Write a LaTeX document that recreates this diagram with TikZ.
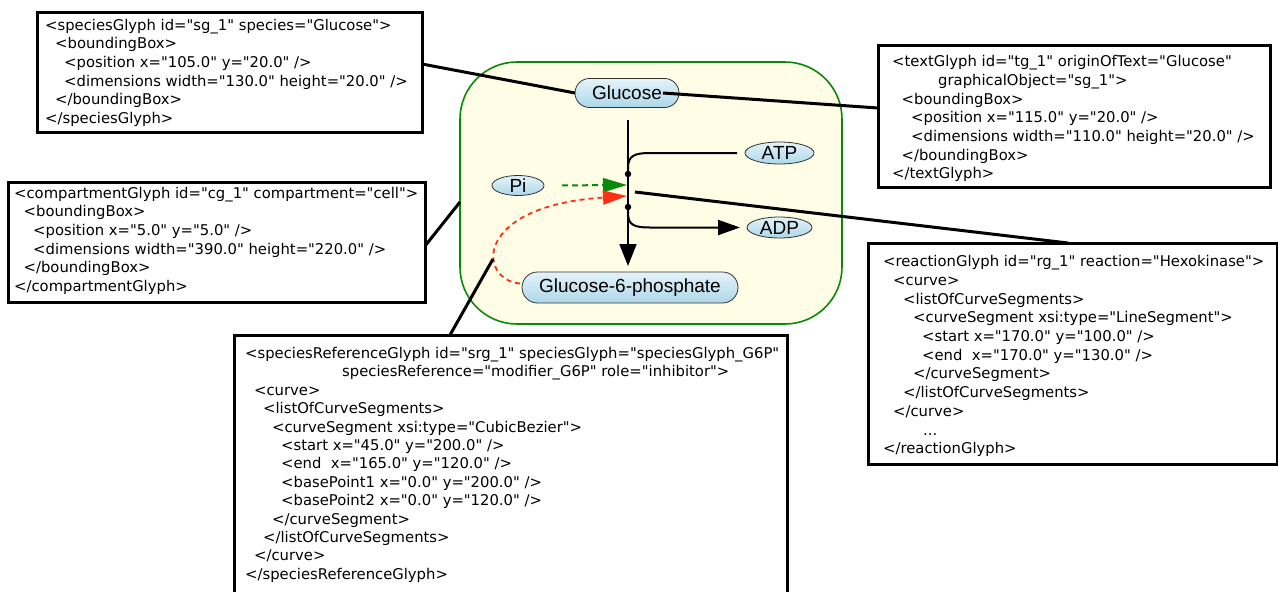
\documentclass[tikz,border=0pt]{standalone}
\usepackage{fontspec}
\setmainfont{DejaVu Sans}[Ligatures=TeXOff]
\newfontfamily\lblfont{Liberation Sans}
\usetikzlibrary{arrows.meta,calc,shapes.geometric}

\definecolor{cellfill}{HTML}{FFFDE6}
\definecolor{cellline}{HTML}{0A8A0A}
\definecolor{spectop}{HTML}{E4F3FA}
\definecolor{specbot}{HTML}{ADD7E9}
\definecolor{actgreen}{HTML}{0A8A0A}
\definecolor{inhred}{HTML}{FF3010}

\newcommand{\ind}[1]{\hspace*{#1pt}}

\tikzset{
  xmlbox/.style={draw=black, line width=3pt, fill=white, inner sep=0pt, outer sep=0pt, anchor=north west},
  xmltext/.style={anchor=base west, inner sep=0pt, font=\fontsize{14.8}{18.7}\selectfont},
  species/.style={draw=black!80, line width=0.8pt, top color=spectop, bottom color=specbot,
    font=\lblfont\fontsize{19}{21}\selectfont, inner sep=0pt, outer sep=0pt},
  stadium/.style={species, rectangle, rounded corners=#1},
  oval/.style={species, ellipse},
  cell/.style={draw=cellline, line width=1.6pt, fill=cellfill, rounded corners=57pt, inner sep=0pt, outer sep=0pt},
  rxn/.style={line width=2pt},
  knot/.style={circle, fill=black, inner sep=0pt, minimum size=6.5pt},
  link/.style={line width=3pt},
}

\begin{document}
\begin{tikzpicture}[x=1pt,y=-1pt]
\useasboundingbox (0,0) rectangle (1278,592);

% compartment
\node[cell, minimum width=382pt, minimum height=262pt] (cell) at (651,193) {};

% reaction backbone and side branches
\coordinate (rtop) at (628,120);
\coordinate (rbot) at (628,266);
\coordinate (actin) at (627,185);
\coordinate (inhend) at (627,196);
\coordinate (rlab) at (635,192);
\coordinate (inhpt) at (493,259);

\node[species, oval, minimum width=69pt, minimum height=22pt] (atp) at (779.5,153) {ATP};
\node[species, oval, minimum width=65pt, minimum height=21pt] (adp) at (779.5,227.5) {ADP};
\node[species, oval, minimum width=52pt, minimum height=20pt] (pi) at (518,185.5) {Pi};
\node[stadium=14.5pt, minimum width=104pt, minimum height=29pt] (glc) at (627,93) {Glucose};
\node[stadium=15.5pt, minimum width=216pt, minimum height=31pt] (g6p) at (630,287.5) {Glucose-6-phosphate};

\draw[rxn, -{Triangle[length=22pt,width=17pt]}] (rtop) -- (rbot);
\node[knot] (d1) at (628,174) {};
\node[knot] (d2) at (628,207) {};

\draw[rxn, shorten >=8pt] (d1.center) -- (628,168) .. controls (628,156) and (634,153) .. (650,153) -- (atp.west);
\draw[rxn, shorten >=7pt, -{Triangle[length=22pt,width=15pt]}] (d2.center) -- (628,213) .. controls (628,225) and (634,227.5) .. (650,227.5) -- (adp.west);

% activator and inhibitor
\draw[actgreen, line width=2pt, dash pattern=on 6pt off 4pt, shorten <=18pt,
      -{Triangle[length=24pt,width=14pt]}] (pi.east) -- (actin);
\draw[inhred, line width=1.8pt, dash pattern=on 5pt off 4pt,
      -{Triangle[length=24pt,width=14pt]}]
  ([xshift=-2pt,yshift=4pt]g6p.west) .. controls (478,280) and (472,206) .. (inhend);

% annotation boxes
\node[xmlbox, minimum width=385pt, minimum height=120pt] (b1) at (37,12) {};
\node[xmltext] (t1) at (45,30) {\begin{tabular}[t]{@{}l@{}}
<speciesGlyph id="sg\_1" species="Glucose">\\
\ind{10}<boundingBox>\\
\ind{19}<position x="105.0" y="20.0" />\\
\ind{19}<dimensions width="130.0" height="20.0" />\\
\ind{10}</boundingBox>\\
</speciesGlyph>
\end{tabular}};

\node[xmlbox, minimum width=392pt, minimum height=142pt] (b2) at (878,45) {};
\node[xmltext] (t2) at (892,66.7) {\begin{tabular}[t]{@{}l@{}}
<textGlyph id="tg\_1" originOfText="Glucose"\\
\ind{46}graphicalObject="sg\_1">\\
\ind{9.5}<boundingBox>\\
\ind{19}<position x="115.0" y="20.0" />\\
\ind{19}<dimensions width="110.0" height="20.0" />\\
\ind{9.5}</boundingBox>\\
</textGlyph>
\end{tabular}};

\node[xmlbox, minimum width=417pt, minimum height=120pt] (b3) at (8,182) {};
\node[xmltext] (t3) at (14,198) {\begin{tabular}[t]{@{}l@{}}
<compartmentGlyph id="cg\_1" compartment="cell">\\
\ind{9.5}<boundingBox>\\
\ind{19}<position x="5.0" y="5.0" />\\
\ind{19}<dimensions width="390.0" height="220.0" />\\
\ind{9.5}</boundingBox>\\
</compartmentGlyph>
\end{tabular}};

\node[xmlbox, minimum width=409pt, minimum height=221pt] (b4) at (868,243) {};
\node[xmltext] (t4) at (883,266.7) {\begin{tabular}[t]{@{}l@{}}
<reactionGlyph id="rg\_1" reaction="Hexokinase">\\
\ind{10}<curve>\\
\ind{20}<listOfCurveSegments>\\
\ind{30}<curveSegment xsi:type="LineSegment">\\
\ind{39}<start x="170.0" y="100.0" />\\
\ind{39}<end\ \ x="170.0" y="130.0" />\\
\ind{30}</curveSegment>\\
\ind{20}</listOfCurveSegments>\\
\ind{10}</curve>\\
\ind{40}...\\
</reactionGlyph>
\end{tabular}};

\node[xmlbox, minimum width=553pt, minimum height=280pt] (b5) at (234,335) {};
\node[xmltext, font=\fontsize{14.8}{18.4}\selectfont] (t5) at (245,358.5) {\begin{tabular}[t]{@{}l@{}}
<speciesReferenceGlyph id="srg\_1" speciesGlyph="speciesGlyph\_G6P"\\
\ind{97}speciesReference="modifier\_G6P" role="inhibitor">\\
\ind{9}<curve>\\
\ind{18}<listOfCurveSegments>\\
\ind{27}<curveSegment xsi:type="CubicBezier">\\
\ind{36}<start x="45.0" y="200.0" />\\
\ind{36}<end\ \ x="165.0" y="120.0" />\\
\ind{36}<basePoint1 x="0.0" y="200.0" />\\
\ind{36}<basePoint2 x="0.0" y="120.0" />\\
\ind{27}</curveSegment>\\
\ind{18}</listOfCurveSegments>\\
\ind{9}</curve>\\
</speciesReferenceGlyph>
\end{tabular}};

% leader lines from the annotations to the glyphs
\draw[link] ([yshift=8pt]b1.east) -- (glc.west);
\draw[link] ([xshift=36pt]glc.center) -- ([yshift=8pt]b2.west);
\draw[link] ([yshift=-4pt]b3.east) -- ([yshift=-9pt]cell.west);
\draw[link] (rlab) -- ([xshift=-4.5pt]b4.north);
\draw[link] ([xshift=216pt]b5.north west) -- (inhpt);
\end{tikzpicture}
\end{document}
